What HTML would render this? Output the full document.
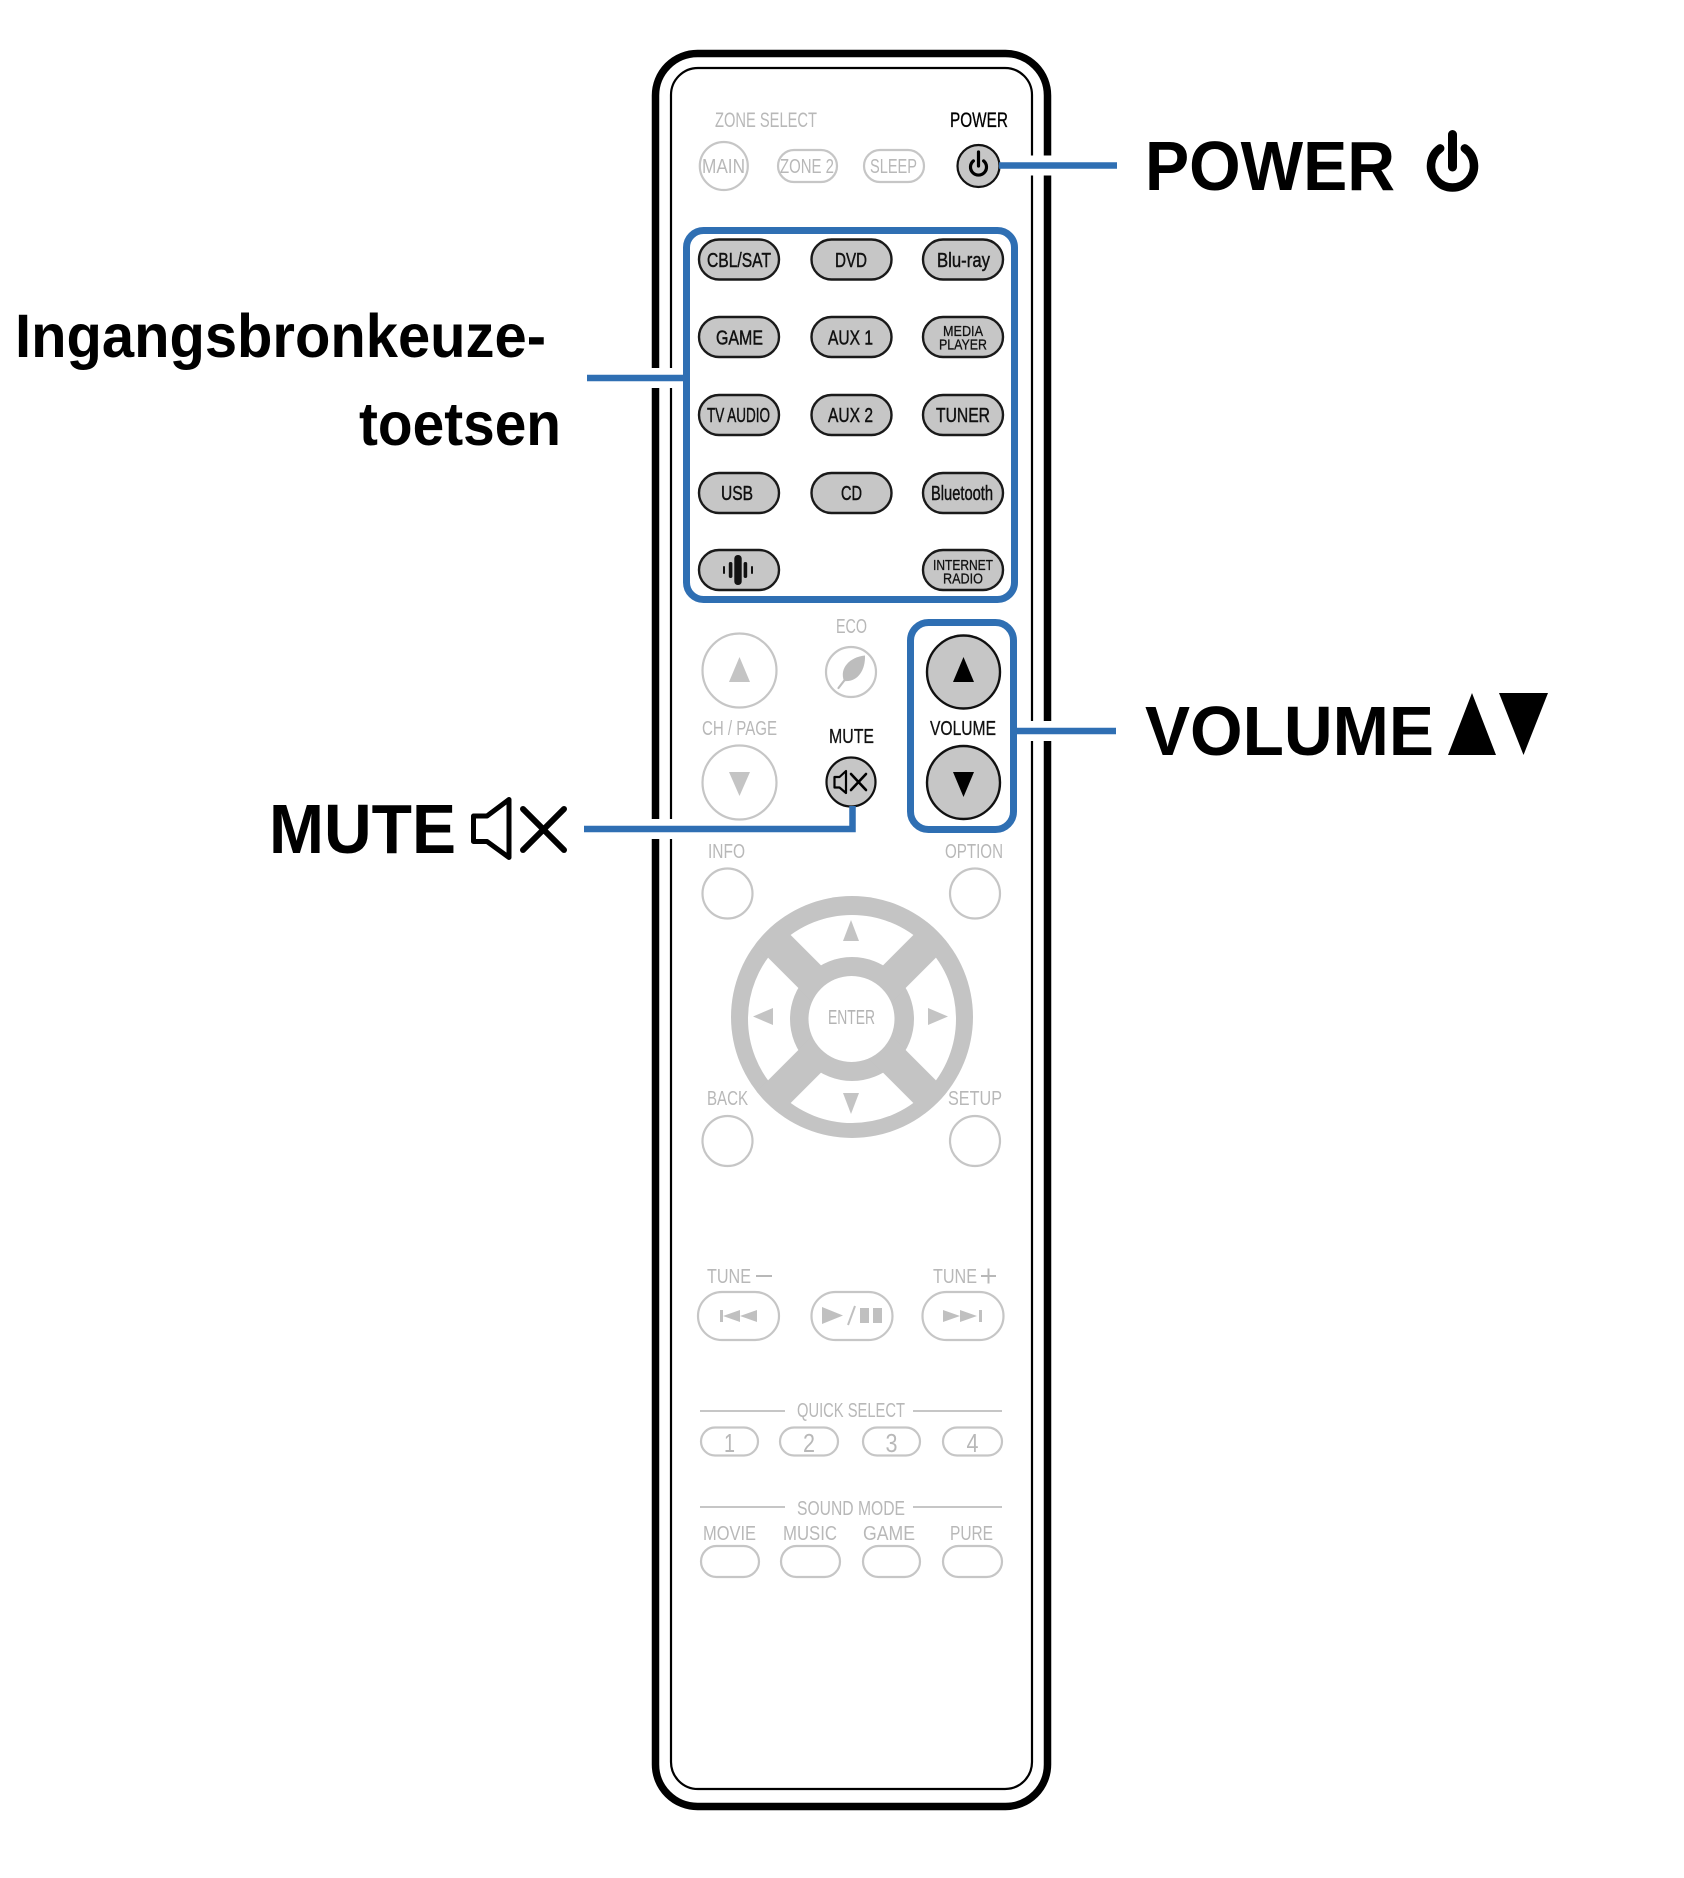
<!DOCTYPE html>
<html>
<head>
<meta charset="utf-8">
<style>
  html,body{margin:0;padding:0;background:#fff;}
  svg{display:block;}
  text{font-family:"Liberation Sans",Arial,sans-serif;}
</style>
</head>
<body>
<svg width="1684" height="1878" viewBox="0 0 1684 1878" xmlns="http://www.w3.org/2000/svg">
  <defs>
    <clipPath id="dpadclip"><circle cx="852" cy="1017" r="121"/></clipPath>
  </defs>
  <rect x="0" y="0" width="1684" height="1878" fill="#fff"/>

  <!-- Remote body -->
  <rect x="655.5" y="53.5" width="392" height="1753" rx="42" ry="42" fill="none" stroke="#000" stroke-width="7.5"/>
  <rect x="671" y="68" width="361" height="1721" rx="27" ry="27" fill="none" stroke="#000" stroke-width="2.2"/>

  <!-- white halos where leader lines cross the body border -->
  <g stroke="#fff" stroke-width="20" fill="none">
    <line x1="640" y1="378" x2="680" y2="378"/>
    <line x1="640" y1="829" x2="680" y2="829"/>
    <line x1="1024" y1="165.5" x2="1062" y2="165.5"/>
    <line x1="1022" y1="731" x2="1062" y2="731"/>
  </g>

  <!-- ZONE SELECT row -->
  <text x="715" y="127" font-size="21" fill="#b8b8b8" textLength="102" lengthAdjust="spacingAndGlyphs">ZONE SELECT</text>
  <text x="950" y="127" font-size="21" fill="#000" stroke="#000" stroke-width="0.3" textLength="58" lengthAdjust="spacingAndGlyphs">POWER</text>
  <circle cx="723.8" cy="166" r="24" fill="none" stroke="#c6c6c6" stroke-width="2.2"/>
  <text x="702" y="173" font-size="20" fill="#b8b8b8" textLength="43" lengthAdjust="spacingAndGlyphs">MAIN</text>
  <rect x="778" y="150" width="59" height="32" rx="16" fill="none" stroke="#c6c6c6" stroke-width="2.2"/>
  <text x="780" y="173" font-size="20" fill="#b8b8b8" textLength="54" lengthAdjust="spacingAndGlyphs">ZONE 2</text>
  <rect x="864" y="150" width="60" height="32" rx="16" fill="none" stroke="#c6c6c6" stroke-width="2.2"/>
  <text x="870" y="173" font-size="20" fill="#b8b8b8" textLength="47" lengthAdjust="spacingAndGlyphs">SLEEP</text>
  <circle cx="978.5" cy="166" r="21" fill="#c6c6c6" stroke="#111" stroke-width="2.2"/>
  <path d="M973.4,160.9 A8,8 0 1,0 983.6,160.9" fill="none" stroke="#000" stroke-width="3.2" stroke-linecap="round"/>
  <line x1="978.5" y1="152" x2="978.5" y2="166" stroke="#000" stroke-width="3.2" stroke-linecap="round"/>

  <!-- Input source blue box -->
  <rect x="686.5" y="230.5" width="328" height="369" rx="17" fill="none" stroke="#2f6fb3" stroke-width="7"/>

  <!-- Source buttons -->
  <g fill="#c6c6c6" stroke="#1a1a1a" stroke-width="2.4">
    <rect x="699" y="239.5" width="80" height="40" rx="20"/>
    <rect x="811.5" y="239.5" width="80" height="40" rx="20"/>
    <rect x="923" y="239.5" width="80" height="40" rx="20"/>
    <rect x="699" y="317" width="80" height="40" rx="20"/>
    <rect x="811.5" y="317" width="80" height="40" rx="20"/>
    <rect x="923" y="317" width="80" height="40" rx="20"/>
    <rect x="699" y="395" width="80" height="40" rx="20"/>
    <rect x="811.5" y="395" width="80" height="40" rx="20"/>
    <rect x="923" y="395" width="80" height="40" rx="20"/>
    <rect x="699" y="473" width="80" height="40" rx="20"/>
    <rect x="811.5" y="473" width="80" height="40" rx="20"/>
    <rect x="923" y="473" width="80" height="40" rx="20"/>
    <rect x="699" y="550" width="80" height="40" rx="20"/>
    <rect x="923" y="550" width="80" height="40" rx="20"/>
  </g>
  <g fill="#111" stroke="#111" stroke-width="0.45" font-size="20">
    <text x="707" y="267" textLength="64" lengthAdjust="spacingAndGlyphs">CBL/SAT</text>
    <text x="835" y="267" textLength="32" lengthAdjust="spacingAndGlyphs">DVD</text>
    <text x="937" y="267" textLength="53" lengthAdjust="spacingAndGlyphs">Blu-ray</text>
    <text x="716" y="344.5" textLength="47" lengthAdjust="spacingAndGlyphs">GAME</text>
    <text x="828" y="344.5" textLength="45" lengthAdjust="spacingAndGlyphs">AUX 1</text>
    <text x="707" y="422" textLength="63" lengthAdjust="spacingAndGlyphs">TV AUDIO</text>
    <text x="828" y="422" textLength="45" lengthAdjust="spacingAndGlyphs">AUX 2</text>
    <text x="936" y="422" textLength="54" lengthAdjust="spacingAndGlyphs">TUNER</text>
    <text x="721" y="500" textLength="32" lengthAdjust="spacingAndGlyphs">USB</text>
    <text x="841" y="500" textLength="21" lengthAdjust="spacingAndGlyphs">CD</text>
    <text x="931" y="500" textLength="62" lengthAdjust="spacingAndGlyphs">Bluetooth</text>
  </g>
  <g fill="#111" stroke="#111" stroke-width="0.3" font-size="15">
    <text x="943" y="336" textLength="40" lengthAdjust="spacingAndGlyphs">MEDIA</text>
    <text x="939" y="349.5" textLength="48" lengthAdjust="spacingAndGlyphs">PLAYER</text>
    <text x="933" y="570" textLength="60" lengthAdjust="spacingAndGlyphs">INTERNET</text>
    <text x="943" y="583.5" textLength="40" lengthAdjust="spacingAndGlyphs">RADIO</text>
  </g>
  <!-- sound wave icon -->
  <g fill="#111">
    <rect x="734.3" y="555" width="7.4" height="30" rx="3.5"/>
    <rect x="728.8" y="562" width="3.6" height="16" rx="1.7"/>
    <rect x="743.6" y="562" width="3.6" height="16" rx="1.7"/>
    <rect x="723" y="566" width="2" height="8" rx="1"/>
    <rect x="751" y="566" width="2" height="8" rx="1"/>
  </g>

  <!-- CH / ECO / MUTE -->
  <text x="836" y="633" font-size="20" fill="#b8b8b8" textLength="31" lengthAdjust="spacingAndGlyphs">ECO</text>
  <circle cx="851" cy="672" r="25" fill="none" stroke="#c6c6c6" stroke-width="2.2"/>
  <path d="M844,681 C839,668 850,657 865,655.5 C865.5,671 857,682.5 844,681 Z" fill="#bdbdbd"/>
  <line x1="838.5" y1="688" x2="847" y2="677" stroke="#bdbdbd" stroke-width="2.2" stroke-linecap="round"/>

  <circle cx="739.5" cy="670.5" r="37" fill="none" stroke="#c6c6c6" stroke-width="2.2"/>
  <polygon points="739.5,657 750,682 729,682" fill="#c4c4c4"/>
  <text x="702" y="735" font-size="20" fill="#b8b8b8" textLength="75" lengthAdjust="spacingAndGlyphs">CH / PAGE</text>
  <circle cx="739.5" cy="782.5" r="37" fill="none" stroke="#c6c6c6" stroke-width="2.2"/>
  <polygon points="729,772 750,772 739.5,796" fill="#c4c4c4"/>

  <text x="829" y="743" font-size="20" fill="#111" stroke="#111" stroke-width="0.3" textLength="45" lengthAdjust="spacingAndGlyphs">MUTE</text>
  <circle cx="851" cy="782" r="24.5" fill="#c6c6c6" stroke="#111" stroke-width="2.2"/>
  <path d="M834.5,777 H839.5 L846,771 V793 L839.5,787.5 H834.5 Z" fill="none" stroke="#000" stroke-width="2.2" stroke-linejoin="round"/>
  <line x1="851" y1="774" x2="866" y2="790" stroke="#000" stroke-width="2.6" stroke-linecap="round"/>
  <line x1="866" y1="774" x2="851" y2="790" stroke="#000" stroke-width="2.6" stroke-linecap="round"/>

  <!-- Volume box -->
  <rect x="910.5" y="622.5" width="103" height="207" rx="18" fill="none" stroke="#2f6fb3" stroke-width="7"/>
  <circle cx="963.5" cy="672" r="36.5" fill="#c6c6c6" stroke="#111" stroke-width="2.4"/>
  <polygon points="963.5,657 974,682 953,682" fill="#000"/>
  <text x="930" y="735" font-size="20" fill="#111" stroke="#111" stroke-width="0.3" textLength="66" lengthAdjust="spacingAndGlyphs">VOLUME</text>
  <circle cx="963.5" cy="782.5" r="36.5" fill="#c6c6c6" stroke="#111" stroke-width="2.4"/>
  <polygon points="953,772 974,772 963.5,797" fill="#000"/>

  <!-- INFO / OPTION -->
  <text x="708" y="858" font-size="20" fill="#b8b8b8" textLength="37" lengthAdjust="spacingAndGlyphs">INFO</text>
  <text x="945" y="858" font-size="20" fill="#b8b8b8" textLength="58" lengthAdjust="spacingAndGlyphs">OPTION</text>
  <circle cx="727.5" cy="893.5" r="25" fill="none" stroke="#c6c6c6" stroke-width="2.2"/>
  <circle cx="975" cy="893.5" r="25" fill="none" stroke="#c6c6c6" stroke-width="2.2"/>

  <!-- D-pad -->
  <circle cx="852" cy="1017" r="121" fill="#c4c4c4"/>
  <circle cx="852" cy="1019" r="83" fill="none" stroke="#fff" stroke-width="42"/>
  <g clip-path="url(#dpadclip)">
    <rect x="836" y="894" width="32" height="250" fill="#c4c4c4" transform="rotate(45 852 1019)"/>
    <rect x="836" y="894" width="32" height="250" fill="#c4c4c4" transform="rotate(-45 852 1019)"/>
  </g>
  <circle cx="851.5" cy="1019" r="43" fill="#fff"/>
  <text x="828" y="1024" font-size="20" fill="#b4b4b4" textLength="47" lengthAdjust="spacingAndGlyphs">ENTER</text>
  <g fill="#c4c4c4">
    <polygon points="851,920 859,941 843,941"/>
    <polygon points="843,1093 859,1093 851,1114"/>
    <polygon points="753,1016.5 773,1008 773,1025"/>
    <polygon points="948,1016.5 928,1008 928,1025"/>
  </g>

  <!-- BACK / SETUP -->
  <text x="707" y="1105" font-size="20" fill="#b8b8b8" textLength="41" lengthAdjust="spacingAndGlyphs">BACK</text>
  <text x="948" y="1105" font-size="20" fill="#b8b8b8" textLength="54" lengthAdjust="spacingAndGlyphs">SETUP</text>
  <circle cx="727.5" cy="1141" r="25" fill="none" stroke="#c6c6c6" stroke-width="2.2"/>
  <circle cx="975" cy="1141" r="25" fill="none" stroke="#c6c6c6" stroke-width="2.2"/>

  <!-- TUNE -->
  <text x="707" y="1283" font-size="20" fill="#b8b8b8" textLength="44" lengthAdjust="spacingAndGlyphs">TUNE</text>
  <line x1="756" y1="1276" x2="772" y2="1276" stroke="#b8b8b8" stroke-width="2"/>
  <text x="933" y="1283" font-size="20" fill="#b8b8b8" textLength="44" lengthAdjust="spacingAndGlyphs">TUNE</text>
  <line x1="981" y1="1276" x2="996" y2="1276" stroke="#b8b8b8" stroke-width="2"/>
  <line x1="988.5" y1="1268.5" x2="988.5" y2="1283.5" stroke="#b8b8b8" stroke-width="2"/>
  <g fill="none" stroke="#c6c6c6" stroke-width="2.2">
    <rect x="698" y="1292" width="81" height="48" rx="24"/>
    <rect x="811.5" y="1292" width="81" height="48" rx="24"/>
    <rect x="922.5" y="1292" width="81" height="48" rx="24"/>
  </g>
  <g fill="#c0c0c0">
    <rect x="720" y="1310" width="3" height="12"/>
    <polygon points="723,1316 740,1310 740,1322"/>
    <polygon points="740,1316 757,1310 757,1322"/>
    <polygon points="822,1307 843,1315.5 822,1324"/>
    <rect x="860" y="1308" width="9" height="15"/>
    <rect x="873" y="1308" width="9" height="15"/>
    <polygon points="943,1310 960,1316 943,1322"/>
    <polygon points="960,1310 977,1316 960,1322"/>
    <rect x="979" y="1310" width="3" height="12"/>
  </g>
  <line x1="848" y1="1325" x2="855" y2="1306" stroke="#c0c0c0" stroke-width="2"/>

  <!-- QUICK SELECT -->
  <line x1="700" y1="1411" x2="785" y2="1411" stroke="#c6c6c6" stroke-width="2"/>
  <line x1="913" y1="1411" x2="1002" y2="1411" stroke="#c6c6c6" stroke-width="2"/>
  <text x="797" y="1417" font-size="20" fill="#b8b8b8" textLength="108" lengthAdjust="spacingAndGlyphs">QUICK SELECT</text>
  <g fill="none" stroke="#c6c6c6" stroke-width="2.2">
    <rect x="701" y="1427.5" width="57" height="28" rx="14"/>
    <rect x="780" y="1427.5" width="58" height="28" rx="14"/>
    <rect x="863" y="1427.5" width="57" height="28" rx="14"/>
    <rect x="943" y="1427.5" width="59" height="28" rx="14"/>
  </g>
  <g fill="#b8b8b8" font-size="26" text-anchor="middle">
    <text x="729.5" y="1452" textLength="11" lengthAdjust="spacingAndGlyphs">1</text>
    <text x="809" y="1452" textLength="12" lengthAdjust="spacingAndGlyphs">2</text>
    <text x="891.5" y="1452" textLength="12" lengthAdjust="spacingAndGlyphs">3</text>
    <text x="972.5" y="1452" textLength="12" lengthAdjust="spacingAndGlyphs">4</text>
  </g>

  <!-- SOUND MODE -->
  <line x1="700" y1="1507" x2="785" y2="1507" stroke="#c6c6c6" stroke-width="2"/>
  <line x1="913" y1="1507" x2="1002" y2="1507" stroke="#c6c6c6" stroke-width="2"/>
  <text x="797" y="1515" font-size="20" fill="#b8b8b8" textLength="108" lengthAdjust="spacingAndGlyphs">SOUND MODE</text>
  <g fill="#b8b8b8" font-size="20">
    <text x="703" y="1540" textLength="53" lengthAdjust="spacingAndGlyphs">MOVIE</text>
    <text x="783" y="1540" textLength="54" lengthAdjust="spacingAndGlyphs">MUSIC</text>
    <text x="863" y="1540" textLength="52" lengthAdjust="spacingAndGlyphs">GAME</text>
    <text x="950" y="1540" textLength="43" lengthAdjust="spacingAndGlyphs">PURE</text>
  </g>
  <g fill="none" stroke="#c6c6c6" stroke-width="2.2">
    <rect x="701" y="1546" width="58" height="31" rx="15.5"/>
    <rect x="781" y="1546" width="59" height="31" rx="15.5"/>
    <rect x="863" y="1546" width="57" height="31" rx="15.5"/>
    <rect x="943" y="1546" width="59" height="31" rx="15.5"/>
  </g>

  <!-- Leader lines -->
  <g stroke="#2f6fb3" stroke-width="6.5" fill="none">
    <line x1="999" y1="165.5" x2="1117" y2="165.5"/>
    <line x1="587" y1="378" x2="684" y2="378"/>
    <polyline points="584,829 852.5,829 852.5,806" stroke-linejoin="miter"/>
    <line x1="1016" y1="731" x2="1116" y2="731"/>
  </g>

  <!-- Big labels -->
  <text x="15" y="357" font-size="61" font-weight="bold" fill="#000" textLength="531" lengthAdjust="spacingAndGlyphs">Ingangsbronkeuze-</text>
  <text x="359" y="445" font-size="61" font-weight="bold" fill="#000" textLength="202" lengthAdjust="spacingAndGlyphs">toetsen</text>

  <text x="269" y="853" font-size="70" font-weight="bold" fill="#000" textLength="187" lengthAdjust="spacingAndGlyphs">MUTE</text>
  <path d="M473.5,816 H487 L509,799.5 V857.5 L487,841.5 H473.5 Z" fill="none" stroke="#000" stroke-width="5" stroke-linejoin="round"/>
  <line x1="523" y1="809" x2="564" y2="850" stroke="#000" stroke-width="6" stroke-linecap="round"/>
  <line x1="564" y1="809" x2="523" y2="850" stroke="#000" stroke-width="6" stroke-linecap="round"/>

  <text x="1145" y="190" font-size="70" font-weight="bold" fill="#000" textLength="250" lengthAdjust="spacingAndGlyphs">POWER</text>
  <path d="M1440.2,148.4 A21.5,21.5 0 1,0 1464.8,148.4" fill="none" stroke="#000" stroke-width="8.5" stroke-linecap="round"/>
  <line x1="1452.5" y1="134.5" x2="1452.5" y2="167" stroke="#000" stroke-width="9" stroke-linecap="round"/>

  <text x="1145" y="755" font-size="70" font-weight="bold" fill="#000" textLength="289" lengthAdjust="spacingAndGlyphs">VOLUME</text>
  <polygon points="1448,755 1472,693 1496,755" fill="#000"/>
  <polygon points="1499,693 1548,693 1523.5,755" fill="#000"/>
</svg>
</body>
</html>
